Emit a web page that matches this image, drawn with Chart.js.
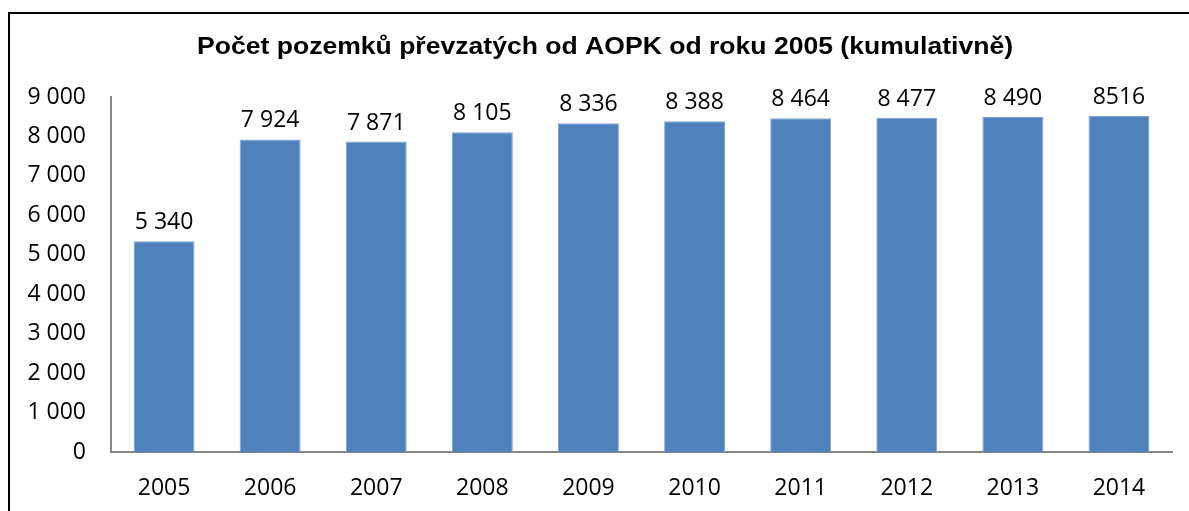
<!doctype html>
<html lang="cs">

<head>
    <meta charset="utf-8" />
    <title>Počet pozemků převzatých od AOPK</title>
    <script src="https://cdn.jsdelivr.net/npm/chart.js@4.4.1/dist/chart.umd.min.js"></script>
    <style>
        html, body {
            margin: 0;
            padding: 0;
            background: #ffffff;
        }

        .container {
            position: relative;
            width: 1189px;
            height: 511px;
        }
    </style>
</head>

<body>
    <div class="container">
        <canvas id="myChart" width="1189" height="511"></canvas>
    </div>

    <script>
        // chart data
        const chartTitle = 'Počet pozemků převzatých od AOPK od roku 2005 (kumulativně)';
        const years = ['2005', '2006', '2007', '2008', '2009', '2010', '2011', '2012', '2013', '2014'];
        const values = [5340, 7924, 7871, 8105, 8336, 8388, 8464, 8477, 8490, 8516];
        const valueLabels = ['5 340', '7 924', '7 871', '8 105', '8 336', '8 388', '8 464', '8 477', '8 490', '8516'];
        const yTickLabels = ['0', '1 000', '2 000', '3 000', '4 000', '5 000', '6 000', '7 000', '8 000', '9 000'];

        const labelFont = '23px "Open Sans"';

        // frame, title and value labels drawn by hand
        const decorations = {
            id: 'decorations',
            beforeDraw(chart) {
                const c = chart.ctx;
                c.save();
                c.fillStyle = '#ffffff';
                c.fillRect(0, 0, chart.width, chart.height);
                c.strokeStyle = '#000000';
                c.lineWidth = 2;
                c.beginPath();
                c.moveTo(9, chart.height + 5);
                c.lineTo(9, 13);
                c.lineTo(chart.width + 5, 13);
                c.stroke();

                // title is a bit wider than the plain font, so stretch it
                c.fillStyle = '#000000';
                c.font = 'bold 23px "Liberation Sans"';
                c.textAlign = 'center';
                c.textBaseline = 'middle';
                const w = c.measureText(chartTitle).width;
                c.translate(605, 48);
                c.scale(816 / w, 1);
                c.fillText(chartTitle, 0, 0);
                c.restore();
            },
            afterDatasetsDraw(chart) {
                const c = chart.ctx;
                const meta = chart.getDatasetMeta(0);
                c.save();
                c.fillStyle = '#000000';
                c.font = labelFont;
                c.textAlign = 'center';
                c.textBaseline = 'bottom';
                meta.data.forEach((bar, i) => {
                    c.fillText(valueLabels[i], bar.x, bar.y - 7);
                });
                c.restore();
            }
        };

        const ctx = document.getElementById('myChart').getContext('2d');

        new Chart(ctx, {
            type: 'bar',
            data: {
                labels: years,
                datasets: [{
                    data: values,
                    backgroundColor: '#4F81BD',
                    borderColor: '#7FA3D3',
                    borderWidth: 1,
                    categoryPercentage: 1.0,
                    barPercentage: 0.574,
                }]
            },
            options: {
                responsive: false,
                animation: false,
                layout: {
                    padding: { top: 97, right: 17, bottom: 10, left: 0 }
                },
                plugins: {
                    legend: { display: false },
                    title: { display: false },
                    tooltip: { enabled: false }
                },
                scales: {
                    x: {
                        afterFit(scale) {
                            scale.height = 49;
                        },
                        grid: { display: false, drawTicks: false },
                        border: { color: '#868686', width: 2 },
                        ticks: {
                            color: '#000000',
                            font: { family: 'Open Sans', size: 23 },
                            padding: 23,
                            maxRotation: 0
                        }
                    },
                    y: {
                        min: 0,
                        max: 9000,
                        afterFit(scale) {
                            scale.width = 111;
                        },
                        grid: { display: false, drawTicks: false },
                        border: { color: '#868686', width: 2 },
                        ticks: {
                            stepSize: 1000,
                            color: '#000000',
                            font: { family: 'Open Sans', size: 23 },
                            padding: 25,
                            callback: (value, index) => yTickLabels[index]
                        }
                    }
                }
            },
            plugins: [decorations]
        });
    </script>
</body>

</html>
